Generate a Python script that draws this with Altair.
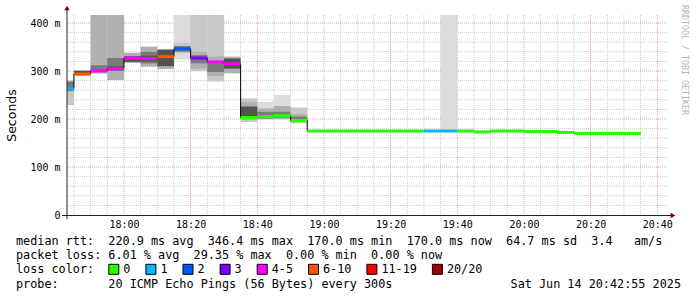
import altair as alt
import pandas as pd

DAY = "2025-06-14T"

# ---- median RTT segments (5-minute steps) ----
seg_start = ["17:42:55", "17:45:00", "17:50:00", "17:55:00", "18:00:00", "18:05:00",
             "18:10:00", "18:15:00", "18:20:00", "18:25:00", "18:30:00", "18:35:00",
             "18:40:00", "18:45:00", "18:50:00", "18:55:00", "19:30:00", "19:35:00",
             "19:40:00", "19:45:00", "19:50:00", "20:00:00", "20:10:00", "20:15:00"]
seg_end = seg_start[1:] + ["20:35:00"]
median_ms = [263, 294, 300, 305, 327, 326, 330, 346.4, 327, 319, 315, 203,
             205, 207, 197, 175, 175, 175, 175, 173, 175, 174, 172, 170]
loss_class = ["1", "6-10", "4-5", "4-5", "4-5", "4-5", "6-10", "2", "3", "4-5", "4-5", "0",
              "0", "0", "0", "0", "1", "1", "0", "0", "0", "0", "0", "0"]

# ---- smoke bands (segment index, layer, low ms, high ms) ----
smoke_seg = [0, 0, 1, 1, 2, 2, 3, 3, 3, 4, 4, 5, 5, 5, 6, 6, 7, 7, 7, 8, 8, 8,
             9, 9, 9, 10, 10, 11, 11, 11, 12, 12, 12, 13, 13, 13, 14, 14, 14, 17, 18, 19]
smoke_level = [1, 3, 2, 4, 2, 3, 2, 3, 4, 2, 4, 2, 3, 4, 2, 4, 0, 1, 3, 1, 2, 3,
               1, 2, 3, 2, 4, 1, 2, 4, 0, 2, 3, 0, 2, 3, 1, 2, 3, 0, 0, 0]
smoke_lo = [229, 258, 290, 292, 295, 300, 281, 300, 302, 317, 319, 309, 316, 320, 304, 310,
            324, 337, 340, 300, 305, 316, 278, 290, 298, 295, 305, 194, 198, 201,
            198, 200, 201, 198, 200, 203, 191, 193, 195, 175, 174, 172]
smoke_hi = [281, 278, 302, 300, 420, 312, 420, 327, 310, 338, 331, 351, 340, 332, 346, 344,
            420, 359, 352, 420, 340, 333, 420, 330, 318, 330, 326, 243, 235, 226,
            236, 222, 215, 250, 227, 215, 224, 210, 205, 420, 178, 177]
smoke_grays = ["#dcdcdc", "#c8c8c8", "#b0b0b0", "#7a7a7a", "#525252"]

# ---- loss colour legend ----
loss_labels = ["0", "1", "2", "3", "4-5", "6-10", "11-19", "20/20"]
loss_colors = ["#26ff00", "#00b8ff", "#0059ff", "#7e00ff", "#ff00ff", "#ff5500", "#ff0000", "#a10000"]

# ---- axis ticks ----
x_major = ["18:00", "18:20", "18:40", "19:00", "19:20", "19:40", "20:00", "20:20", "20:40"]
y_major = [100, 200, 300, 400]
y_labels = [0, 100, 200, 300, 400]

legend_lines = [
    "median rtt:  220.9 ms avg  346.4 ms max  170.0 ms min  170.0 ms now  64.7 ms sd  3.4   am/s",
    "packet loss: 6.01 % avg  29.35 % max  0.00 % min  0.00 % now",
    "loss color:",
    "probe:       20 ICMP Echo Pings (56 Bytes) every 300s",
]
stamp = "Sat Jun 14 20:42:55 2025"
watermark = "RRDTOOL / TOBI OETIKER"

# ---------------------------------------------------------------
seg = pd.DataFrame({"start": [DAY + s for s in seg_start],
                    "end": [DAY + e for e in seg_end],
                    "median": median_ms, "loss": loss_class})
smoke = pd.DataFrame({"start": [DAY + seg_start[i] for i in smoke_seg],
                      "end": [DAY + seg_end[i] for i in smoke_seg],
                      "level": smoke_level, "lo": smoke_lo, "hi": smoke_hi})
smoke = smoke.sort_values("level", kind="stable").reset_index(drop=True)
step = pd.DataFrame({"t": [DAY + s for s in seg_start] + [DAY + seg_end[-1]],
                     "median": median_ms + [median_ms[-1]]})

x_minor_t = []
for h in range(17, 21):
    for m in range(0, 60, 5):
        hm = f"{h:02d}:{m:02d}"
        if "17:45" <= hm <= "20:40" and hm not in x_major:
            x_minor_t.append(DAY + hm + ":00")
xmin_df = pd.DataFrame({"t": x_minor_t})
xmaj_df = pd.DataFrame({"t": [DAY + t + ":00" for t in x_major]})
ymin_df = pd.DataFrame({"v": [v for v in range(20, 401, 20) if v % 100 != 0]})
ymaj_df = pd.DataFrame({"v": y_major})


def dt(h, m, s=0):
    return alt.DateTime(year=2025, month=6, date=14, hours=h, minutes=m, seconds=s)


xs = alt.Scale(domain=[dt(17, 42, 55), dt(20, 42, 55)])
ys = alt.Scale(domain=[0, 416.67], nice=False, zero=False)

MONO = "DejaVu Sans Mono"
MINOR = "#cccccc"
MAJOR = "#e6a3a3"

x_axis = alt.Axis(values=[dt(int(t[:2]), int(t[3:])) for t in x_major], format="%H:%M",
                  labelFont=MONO, labelFontSize=10, labelColor="#000", ticks=False, tickSize=0,
                  domain=False, grid=False, labelPadding=4, title=None, labelFlush=False,
                  labelOverlap=False)
y_axis = alt.Axis(values=y_labels, labelExpr="datum.value == 0 ? '0' : datum.value + ' m'",
                  labelFont=MONO, labelFontSize=10, labelColor="#000", ticks=False, tickSize=0,
                  domain=False, grid=False, labelPadding=7, title="Seconds",
                  titleFont="DejaVu Sans", titleFontSize=12.5, titleFontWeight="normal",
                  titleColor="#000", titleX=-55.5, titleY=100, titleAngle=-90,
                  titleAlign="center", titleBaseline="middle")


def X(f):
    return alt.X(f, scale=xs, axis=x_axis)


def Y(f):
    return alt.Y(f, scale=ys, axis=y_axis)


grid_ymin = alt.Chart(ymin_df).mark_rule(color=MINOR, strokeDash=[1, 1], strokeWidth=1).encode(y=Y("v:Q"))
grid_xmin = alt.Chart(xmin_df).mark_rule(color=MINOR, strokeDash=[1, 1], strokeWidth=1).encode(x=X("t:T"))
grid_ymaj = alt.Chart(ymaj_df).mark_rule(color=MAJOR, strokeDash=[1, 1], strokeWidth=1).encode(y=Y("v:Q"))
grid_xmaj = alt.Chart(xmaj_df).mark_rule(color=MAJOR, strokeDash=[1, 1], strokeWidth=1).encode(x=X("t:T"))

smoke_layer = alt.Chart(smoke).mark_rect(clip=True).encode(
    x=X("start:T"), x2="end:T", y=Y("lo:Q"), y2="hi:Q",
    color=alt.Color("level:O", scale=alt.Scale(domain=[0, 1, 2, 3, 4], range=smoke_grays), legend=None))

step_layer = alt.Chart(step).mark_line(interpolate="step-after", color="#000", strokeWidth=1).encode(
    x=X("t:T"), y=Y("median:Q"))

median_layer = alt.Chart(seg).mark_rule(strokeWidth=3).encode(
    x=X("start:T"), x2="end:T", y=Y("median:Q"),
    color=alt.Color("loss:N", scale=alt.Scale(domain=loss_labels, range=loss_colors), legend=None))

one = pd.DataFrame({"d": [0]})
AXC = "#222222"
ARROW = "#7a0000"
x_line = alt.Chart(one).mark_rule(color=AXC, strokeWidth=1).encode(
    x=alt.value(-5), x2=alt.value(604), y=alt.value(200.5))
y_line = alt.Chart(one).mark_rule(color=AXC, strokeWidth=1).encode(
    x=alt.value(0), y=alt.value(204), y2=alt.value(-6))
x_arrow = alt.Chart(one).mark_point(shape="triangle-right", filled=True, size=28, color=ARROW, opacity=1).encode(
    x=alt.value(606), y=alt.value(200.5))
y_arrow = alt.Chart(one).mark_point(shape="triangle-up", filled=True, size=28, color=ARROW, opacity=1).encode(
    x=alt.value(0), y=alt.value(-7))


def nb(s):
    return s.replace(" ", "\u00a0")


OX, OY = 67, 15
LEG_FS = 11.8
CW = 7.1
line_y = [241.3, 255.3, 269.3, 283.7]

texts = []
for s, yy in zip(legend_lines, line_y):
    texts.append(alt.Chart(one).mark_text(text=nb(s), align="left", baseline="middle", font=MONO,
                                          fontSize=LEG_FS, color="#000").encode(
        x=alt.value(16 - OX), y=alt.value(yy - OY)))
texts.append(alt.Chart(one).mark_text(text=nb(stamp), align="right", baseline="middle", font=MONO,
                                      fontSize=LEG_FS, color="#000").encode(
    x=alt.value(681 - OX), y=alt.value(line_y[3] - OY)))
texts.append(alt.Chart(one).mark_text(text=nb(watermark), align="left", baseline="middle", font=MONO,
                                      fontSize=8.3, color="#b4b4b4", angle=90).encode(
    x=alt.value(684 - OX), y=alt.value(5 - OY)))

bx = 108.3
for lab, col in zip(loss_labels, loss_colors):
    texts.append(alt.Chart(one).mark_rect(color=col, stroke="#000", strokeWidth=1).encode(
        x=alt.value(bx - OX + 0.5), x2=alt.value(bx - OX + 10.5),
        y=alt.value(line_y[2] - OY - 5), y2=alt.value(line_y[2] - OY + 5)))
    texts.append(alt.Chart(one).mark_text(text=nb(lab), align="left", baseline="middle", font=MONO,
                                          fontSize=LEG_FS, color="#000").encode(
        x=alt.value(bx + 15 - OX), y=alt.value(line_y[2] - OY)))
    bx += 30 + len(lab) * CW

chart = alt.layer(grid_ymin, grid_xmin, grid_ymaj, grid_xmaj, smoke_layer, step_layer, median_layer,
                  x_line, y_line, x_arrow, y_arrow, *texts).resolve_scale(color="independent").properties(
    width=600, height=200,
    padding={"left": OX, "top": OY, "right": 30, "bottom": 82},
    autosize=alt.AutoSizeParams(type="none"),
    background="white",
).configure_view(stroke=None)

chart.save("out.html", embed_options={"renderer": "svg", "actions": False})
